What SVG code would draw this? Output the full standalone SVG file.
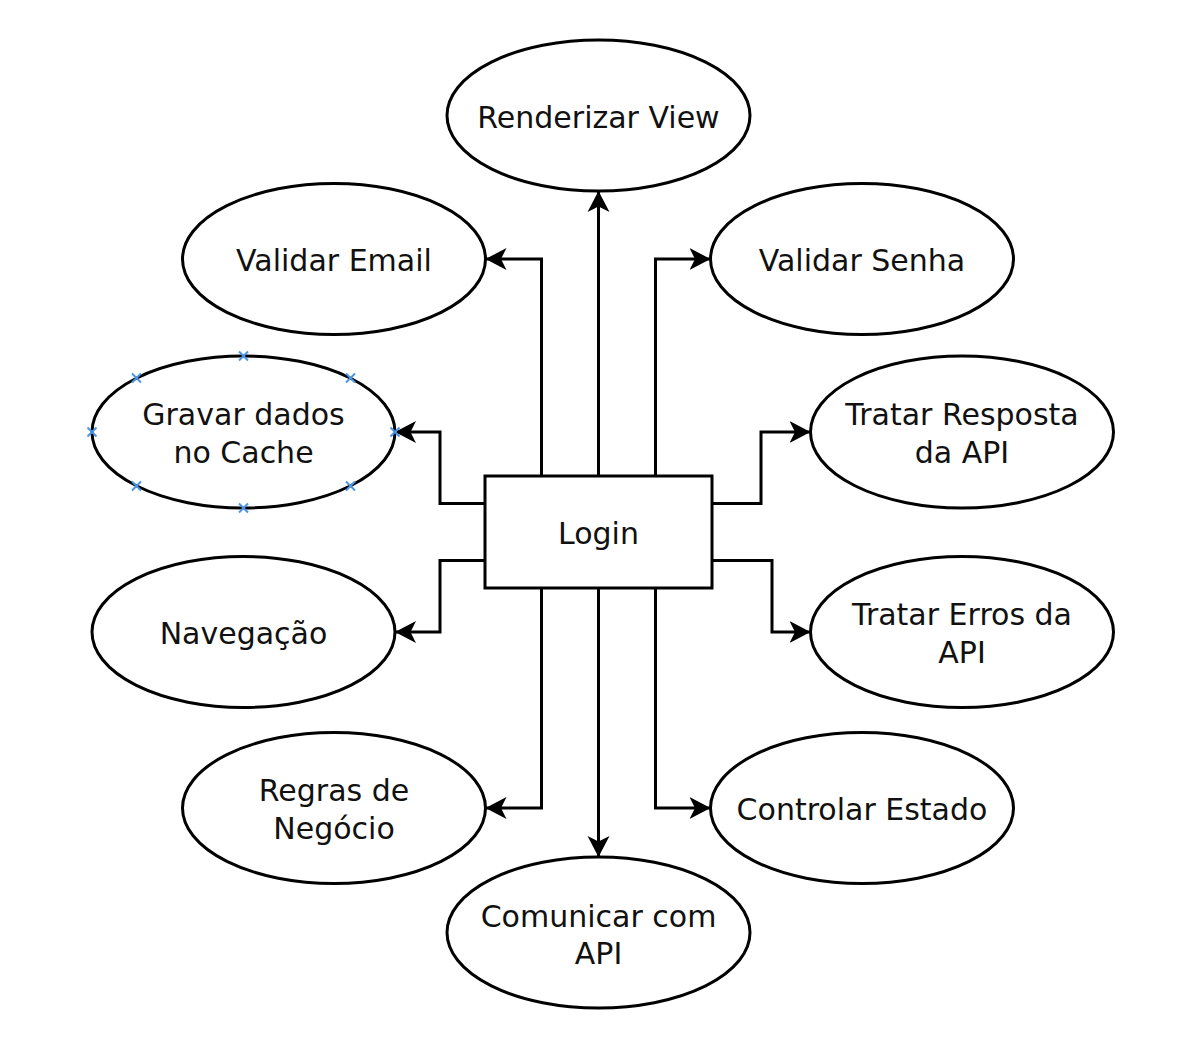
<svg xmlns="http://www.w3.org/2000/svg" width="1193" height="1046" viewBox="0 0 1193 1046">
<style>
.node ellipse, .node rect { fill: #ffffff; stroke: #000000; stroke-width: 3; }
.node text { font-family: "DejaVu Sans", Verdana, sans-serif; font-size: 30px; fill: #111111; text-anchor: middle; }
.edges path { fill: none; stroke: #000000; stroke-width: 3; marker-end: url(#arrow); }
.cp path { fill: none; stroke: #4c95e0; stroke-width: 2; }
</style>
<defs>
<marker id="arrow" markerUnits="userSpaceOnUse" markerWidth="24" markerHeight="26" refX="21" refY="12" orient="auto" viewBox="0 0 24 24">
<path d="M21,12 L0,1 L5.5,12 L0,23 Z" fill="#000000"/>
</marker>
</defs>
<rect x="0" y="0" width="1193" height="1046" fill="#ffffff"/>
<g class="edges" id="connectors">
<path d="M598.5,476 L598.5,191"/>
<path d="M541.5,476 L541.5,259 L485.5,259"/>
<path d="M655.5,476 L655.5,259 L710.5,259"/>
<path d="M485,503.5 L440,503.5 L440,432 L395,432"/>
<path d="M712,503.5 L761,503.5 L761,432 L810.5,432"/>
<path d="M485,560.5 L440,560.5 L440,632 L395,632"/>
<path d="M712,560.5 L772,560.5 L772,632 L810.5,632"/>
<path d="M541.5,588 L541.5,808 L485.5,808"/>
<path d="M655.5,588 L655.5,808 L710.5,808"/>
<path d="M598.5,588 L598.5,857"/>
</g>
<g class="node" id="login">
<rect x="485" y="476" width="227" height="112"/>
<text x="598.5" y="544">Login</text>
</g>
<g class="node" id="renderizar-view">
<ellipse cx="598.5" cy="115.5" rx="151.5" ry="75.5"/>
<text x="598.5" y="128">Renderizar View</text>
</g>
<g class="node" id="validar-email">
<ellipse cx="334" cy="259" rx="151.5" ry="75.5"/>
<text x="334" y="271">Validar Email</text>
</g>
<g class="node" id="validar-senha">
<ellipse cx="862" cy="259" rx="151.5" ry="75.5"/>
<text x="862" y="271">Validar Senha</text>
</g>
<g class="node" id="gravar-cache">
<ellipse cx="243.5" cy="432" rx="151.5" ry="76"/>
<text x="243.5" y="425">Gravar dados</text>
<text x="243.5" y="463">no Cache</text>
</g>
<g class="cp" id="connection-points">
<path d="M239,351.5 l9,9 m0,-9 l-9,9"/>
<path d="M239,503.5 l9,9 m0,-9 l-9,9"/>
<path d="M87.5,427.5 l9,9 m0,-9 l-9,9"/>
<path d="M390.5,427.5 l9,9 m0,-9 l-9,9"/>
<path d="M132,373.5 l9,9 m0,-9 l-9,9"/>
<path d="M346,373.5 l9,9 m0,-9 l-9,9"/>
<path d="M132,481.5 l9,9 m0,-9 l-9,9"/>
<path d="M346,481.5 l9,9 m0,-9 l-9,9"/>
</g>
<g class="node" id="tratar-resposta">
<ellipse cx="962" cy="432" rx="151.5" ry="76"/>
<text x="962" y="425">Tratar Resposta</text>
<text x="962" y="463">da API</text>
</g>
<g class="node" id="navegacao">
<ellipse cx="243.5" cy="632" rx="151.5" ry="75.5"/>
<text x="243.5" y="644">Navegação</text>
</g>
<g class="node" id="tratar-erros">
<ellipse cx="962" cy="632" rx="151.5" ry="75.5"/>
<text x="962" y="625">Tratar Erros da</text>
<text x="962" y="663">API</text>
</g>
<g class="node" id="regras-negocio">
<ellipse cx="334" cy="808" rx="151.5" ry="75.5"/>
<text x="334" y="801">Regras de</text>
<text x="334" y="839">Negócio</text>
</g>
<g class="node" id="controlar-estado">
<ellipse cx="862" cy="808" rx="151.5" ry="75.5"/>
<text x="862" y="820">Controlar Estado</text>
</g>
<g class="node" id="comunicar-api">
<ellipse cx="598.5" cy="932.5" rx="151.5" ry="75.5"/>
<text x="598.5" y="926.5">Comunicar com</text>
<text x="598.5" y="964">API</text>
</g>
</svg>
